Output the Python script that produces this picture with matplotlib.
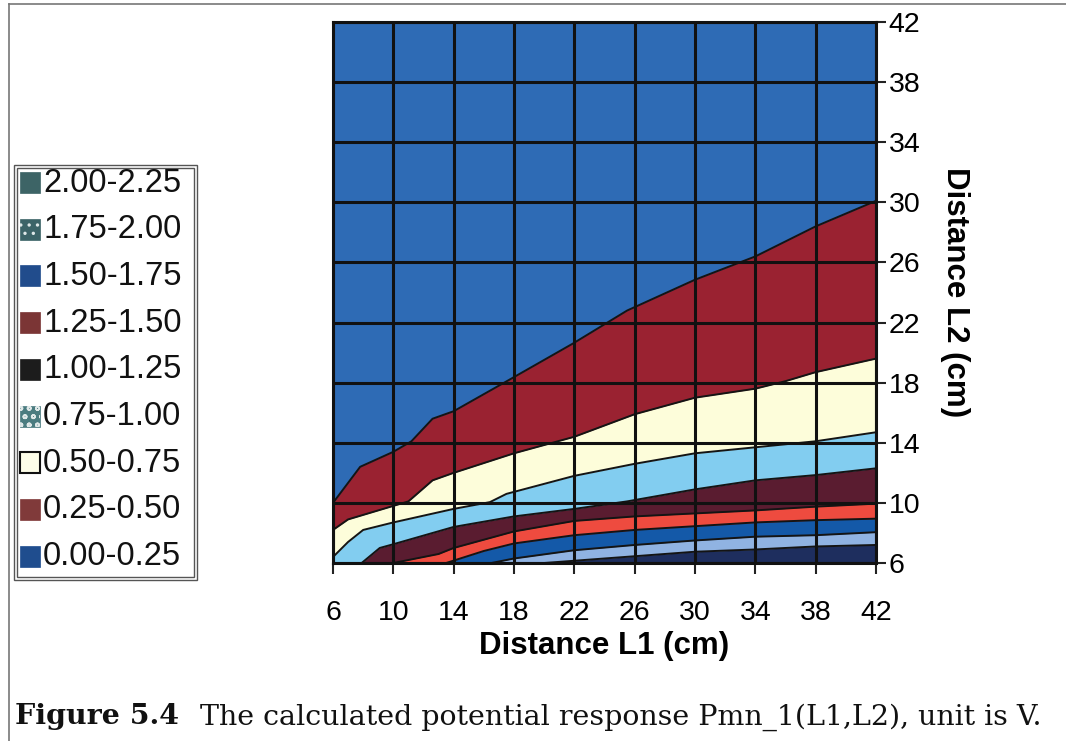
import matplotlib
matplotlib.use("Agg")
import matplotlib.pyplot as plt
from matplotlib.patches import Rectangle
from matplotlib.lines import Line2D

plt.rcParams['font.family'] = ['Liberation Sans', 'DejaVu Sans']
plt.rcParams['hatch.linewidth'] = 1.2

W, H = 1066, 741

# Axis ticks (cm)
l1_ticks = [6, 10, 14, 18, 22, 26, 30, 34, 38, 42]
l2_ticks = [6, 10, 14, 18, 22, 26, 30, 34, 38, 42]

# Contour boundaries: L2 (cm) along L1 (cm) for each potential level (V)
b025_l1 = [6, 7.8, 10, 11.2, 12.6, 14, 17.7, 21.9, 25.5, 30, 34, 38, 42]
b025_l2 = [10.0, 12.4, 13.4, 14.1, 15.6, 16.1, 18.2, 20.6, 22.8, 24.85, 26.4, 28.4, 30.1]

b050_l1 = [6, 7, 10, 11, 12.6, 14, 18, 22, 26, 30, 34, 36, 38, 42]
b050_l2 = [8.2, 8.9, 9.8, 10.1, 11.5, 12.0, 13.3, 14.4, 15.9, 17.0, 17.6, 18.1, 18.7, 19.6]

b075_l1 = [6, 7, 8, 10, 14, 16.4, 17.5, 22, 26, 30, 34, 38, 42]
b075_l2 = [6.4, 7.4, 8.2, 8.7, 9.6, 10.05, 10.6, 11.8, 12.6, 13.3, 13.7, 14.1, 14.7]

b100_l1 = [7.9, 9.1, 10, 14, 18, 22, 25.5, 30, 34, 38, 42]
b100_l2 = [6.0, 7.0, 7.25, 8.4, 9.1, 9.6, 10.1, 10.9, 11.5, 11.85, 12.3]

b125_l1 = [10, 13, 14, 18, 22, 26, 30, 34, 38, 42]
b125_l2 = [6.0, 6.6, 7.0, 8.1, 8.8, 9.1, 9.3, 9.5, 9.75, 9.95]

b150_l1 = [13.5, 16, 18, 22, 26, 30, 34, 38, 42]
b150_l2 = [6.0, 6.8, 7.3, 7.85, 8.2, 8.45, 8.7, 8.85, 8.95]

b175_l1 = [16.5, 18, 22, 26, 30, 34, 38, 42]
b175_l2 = [6.0, 6.3, 6.85, 7.2, 7.5, 7.75, 7.85, 8.05]

b200_l1 = [20, 22, 26, 30, 34, 38, 42]
b200_l2 = [6.0, 6.15, 6.45, 6.75, 6.9, 7.1, 7.2]

boundaries = [
    (b025_l1, b025_l2),
    (b050_l1, b050_l2),
    (b075_l1, b075_l2),
    (b100_l1, b100_l2),
    (b125_l1, b125_l2),
    (b150_l1, b150_l2),
    (b175_l1, b175_l2),
    (b200_l1, b200_l2),
]

# Fill colours of the bands, lowest level first
band_colors = ['#2e6bb5', '#9a2231', '#fdfdda', '#82cdf0', '#5a1c30',
               '#ee4b3f', '#1459a8', '#90b3e2', '#1e2e5e']

# Legend entries, top to bottom
legend_labels = ['2.00-2.25', '1.75-2.00', '1.50-1.75', '1.25-1.50', '1.00-1.25',
                 '0.75-1.00', '0.50-0.75', '0.25-0.50', '0.00-0.25']
legend_colors = ['#3d6466', '#3c6468', '#214c8c', '#7b3535', '#1c1c1c',
                 '#4b7c80', '#fdfde8', '#803a3a', '#1f4d8e']
legend_hatch = [None, '..', None, None, None, 'oo', None, None, None]

fig = plt.figure(figsize=(W / 100, H / 100), dpi=100)
fig.patch.set_facecolor('white')


def fx(px):
    return px / W


def fy(py):
    return 1 - py / H


ax = fig.add_axes([fx(333), fy(563), fx(876) - fx(333), fy(22) - fy(563)])
ax.set_facecolor(band_colors[0])
ax.set_xlim(6, 42)
ax.set_ylim(6, 42)

for (xs, ys), col in zip(boundaries, band_colors[1:]):
    ax.fill_between(xs, 6, ys, color=col, lw=0, zorder=1)
for xs, ys in boundaries:
    ax.plot(xs, ys, color='#141414', lw=1.4, zorder=2)

ax.set_xticks(l1_ticks)
ax.set_yticks(l2_ticks)
ax.grid(True, color='#111111', lw=2.2, zorder=3)
ax.set_axisbelow(False)
for s in ax.spines.values():
    s.set_color('#111111')
    s.set_linewidth(2.2)
    s.set_zorder(4)

ax.yaxis.tick_right()
ax.yaxis.set_label_position('right')
ax.tick_params(axis='x', direction='out', length=8, width=1.5, pad=19,
               labelsize=20.5, color='#222222')
ax.tick_params(axis='y', direction='out', length=7, width=1.5, pad=2,
               labelsize=20.5, color='#222222')
ax.set_xlabel('Distance L1 (cm)', fontsize=22.5, fontweight='bold', labelpad=3)
ax.set_ylabel('Distance L2 (cm)', fontsize=22.5, fontweight='bold',
              rotation=-90, labelpad=36)

# Legend box with a double outline
for inset in (0, 3):
    fig.add_artist(Rectangle((fx(14 + inset), fy(580 - inset)),
                             fx(183 - 2 * inset), fy(0) - fy(415 - 2 * inset),
                             transform=fig.transFigure, fill=False,
                             edgecolor='#555555', lw=1.0))

row0, step = 183, 46.7
for i, (lab, col, hat) in enumerate(zip(legend_labels, legend_colors, legend_hatch)):
    yc = row0 + i * step
    edge = '#111111' if col == '#fdfde8' else col
    fig.add_artist(Rectangle((fx(20), fy(yc + 10)), fx(20), fy(0) - fy(21),
                             transform=fig.transFigure, facecolor=col,
                             edgecolor=edge, lw=1.5 if col == '#fdfde8' else 0.5))
    if hat:
        fig.add_artist(Rectangle((fx(20), fy(yc + 10)), fx(20), fy(0) - fy(21),
                                 transform=fig.transFigure, facecolor='none',
                                 edgecolor='#dfe8e8', hatch=hat, lw=0))
    fig.text(fx(43), fy(yc), lab, fontsize=23.5, va='center', ha='left',
             color='#111111')

# Page frame lines
fig.add_artist(Line2D([fx(9), fx(9)], [fy(4), fy(741)], transform=fig.transFigure,
                      color='#777777', lw=1.2))
fig.add_artist(Line2D([fx(9), fx(1066)], [fy(4), fy(4)], transform=fig.transFigure,
                      color='#777777', lw=1.2))

# Caption
fig.text(fx(15), fy(717), 'Figure 5.4', fontsize=20.5, fontweight='bold',
         family='DejaVu Serif', va='center', ha='left', color='#111111')
fig.text(fx(200), fy(717), 'The calculated potential response Pmn_1(L1,L2), unit is V.',
         fontsize=20.5, family='DejaVu Serif', va='center', ha='left', color='#111111')

fig.savefig('out.png', dpi=100, facecolor='white')
